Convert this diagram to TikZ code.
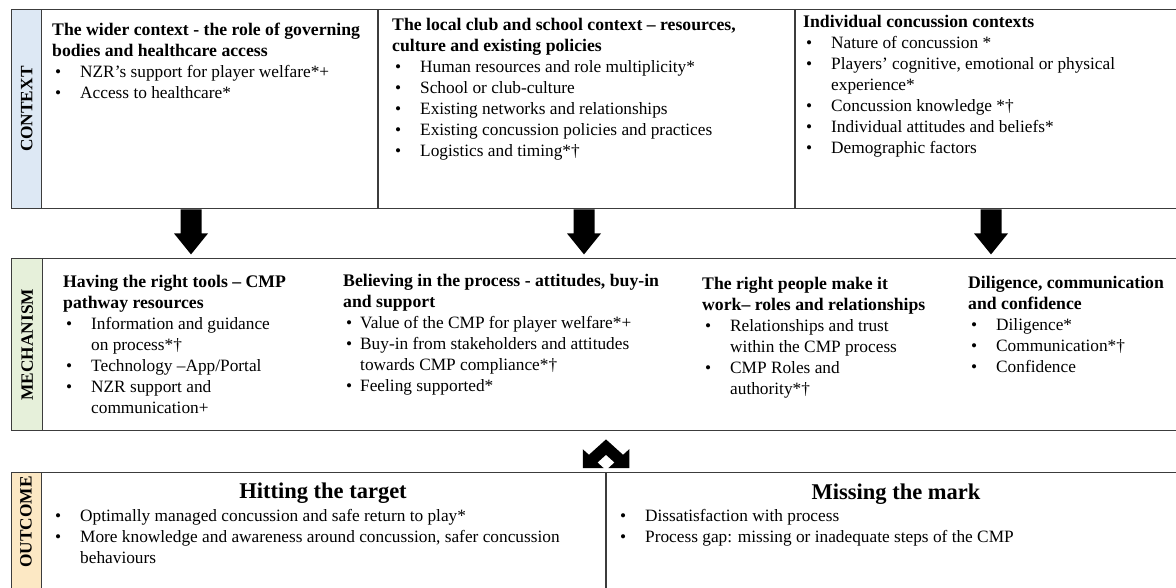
\documentclass[tikz,border=0pt]{standalone}
\usepackage{fontspec}
\setmainfont{Liberation Serif}
\definecolor{ctxblue}{HTML}{DDE8F4}
\definecolor{mechgreen}{HTML}{E6F0DA}
\definecolor{outpeach}{HTML}{FCE8C4}
\definecolor{linegray}{HTML}{3C3C3C}
\newcommand\blk{\fontsize{17.3}{21}\selectfont}
\newcommand\bl[2][28pt]{\makebox[#1][l]{\hspace{3pt}\textbullet}#2}
\newcommand\cl[2][28pt]{\hspace*{#1}#2}
\newcommand\hd[1]{{\fontsize{17.7}{21}\selectfont\bfseries #1}}
\newcommand\rows[1]{\begin{tabular}[t]{@{}l@{}}#1\end{tabular}}
\tikzset{
  frame/.style={draw=linegray, line width=1.4pt, anchor=north west, inner sep=0, minimum width=#1},
  blk/.style={anchor=base west, inner sep=0, font=\blk},
  lab/.style={rotate=90, font=\blk\bfseries, inner sep=0},
  ttl/.style={anchor=base, inner sep=0, font=\fontsize{22.5}{26}\selectfont\bfseries},
  divider/.style={draw=linegray, line width=1.4pt},
  downarr/.pic={\fill (-10.5,0) -- (10.5,0) -- (10.5,24) -- (17,24) -- (0,45) -- (-17,24) -- (-10.5,24) -- cycle;},
  chevron/.pic={\fill[xscale=1.55, yscale=1.4] (0,0) -- (11,11) -- (15,7) -- (15,20.5) -- (1.5,20.5) -- (5.5,16.5) -- (0,11) -- (-5.5,16.5) -- (-1.5,20.5) -- (-15,20.5) -- (-15,7) -- (-11,11) -- cycle;}
}
\begin{document}
\begin{tikzpicture}[x=1pt,y=-1pt]
\useasboundingbox (0,0) rectangle (1176,587);
\fill[white] (0,0) rectangle (1176,587);

% ---------- CONTEXT ----------
\node[frame=1175pt, minimum height=199pt] (ctx) at (11,9) {};
\node[frame=30pt, minimum height=199pt, fill=ctxblue] (ctxlab) at (11,9) {};
\node[lab] (ctxtxt) at (ctxlab.center) {CONTEXT};
\draw[divider] (378,0 |- ctx.north) -- (378,0 |- ctx.south);
\draw[divider] (795,0 |- ctx.north) -- (795,0 |- ctx.south);

\node[blk] (c1) at (52,35) {\rows{%
\hd{The wider context - the role of governing}\\
\hd{bodies and healthcare access}\\
\bl{NZR’s support for player welfare*+}\\
\bl{Access to healthcare*}}};

\node[blk] (c2) at (392,30) {\rows{%
\hd{The local club and school context – resources,}\\
\hd{culture and existing policies}\\
\bl{Human resources and role multiplicity*}\\
\bl{School or club-culture}\\
\bl{Existing networks and relationships}\\
\bl{Existing concussion policies and practices}\\
\bl{Logistics and timing*†}}};

\node[blk] (c3) at (803,27.5) {\rows{%
\hd{Individual concussion contexts}\\
\bl{Nature of concussion *}\\
\bl{Players’ cognitive, emotional or physical}\\
\cl{experience*}\\
\bl{Concussion knowledge *†}\\
\bl{Individual attitudes and beliefs*}\\
\bl{Demographic factors}}};

% ---------- arrows ----------
\pic at (191,0 |- ctx.south) {downarr};
\pic at (584,0 |- ctx.south) {downarr};
\pic at (991,0 |- ctx.south) {downarr};

% ---------- MECHANISM ----------
\node[frame=1175pt, minimum height=172pt] (mech) at (11,258) {};
\node[frame=31pt, minimum height=172pt, fill=mechgreen] (mechlab) at (11,258) {};
\node[lab] (mechtxt) at (mechlab.center) {MECHANISM};

\node[blk] (m1) at (63,287) {\rows{%
\hd{Having the right tools – CMP}\\
\hd{pathway resources}\\
\bl{Information and guidance}\\
\cl{on process*†}\\
\bl{Technology –App/Portal}\\
\bl{NZR support and}\\
\cl{communication+}}};

\node[blk] (m2) at (343,286) {\rows{%
\hd{Believing in the process - attitudes, buy-in}\\
\hd{and support}\\
\bl[17pt]{Value of the CMP for player welfare*+}\\
\bl[17pt]{Buy-in from stakeholders and attitudes}\\
\cl[17pt]{towards CMP compliance*†}\\
\bl[17pt]{Feeling supported*}}};

\node[blk] (m3) at (702,289) {\rows{%
\hd{The right people make it}\\
\hd{work– roles and relationships}\\
\bl{Relationships and trust}\\
\cl{within the CMP process}\\
\bl{CMP Roles and}\\
\cl{authority*†}}};

\node[blk] (m4) at (968,288) {\rows{%
\hd{Diligence, communication}\\
\hd{and confidence}\\
\bl{Diligence*}\\
\bl{Communication*†}\\
\bl{Confidence}}};

% ---------- chevron ----------
\coordinate (chev) at ([yshift=-8pt]606,0 |- mech.south);
\pic at (chev) {chevron};

% ---------- OUTCOME ----------
\node[frame=1175pt, minimum height=125pt] (out) at (11,472) {};
\node[frame=30pt, minimum height=125pt, fill=outpeach] (outlab) at (11,472) {};
\node[lab] (outtxt) at (26,522) {OUTCOME};
\draw[divider] (606,0 |- out.north) -- (606,0 |- out.south);

\node[ttl] (hit) at (323,498) {Hitting the target};
\node[blk] (o1) at (52,521) {\rows{%
\bl{Optimally managed concussion and safe return to play*}\\
\bl{More knowledge and awareness around concussion, safer concussion}\\
\cl{behaviours}}};

\node[ttl] (miss) at (896,499) {Missing the mark};
\node[blk] (o2) at (617,521) {\rows{%
\bl{Dissatisfaction with process}\\
\bl{Process gap: missing or inadequate steps of the CMP}}};
\end{tikzpicture}
\end{document}
